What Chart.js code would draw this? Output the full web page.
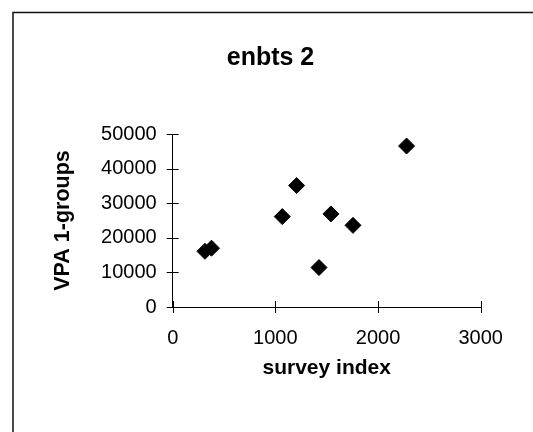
<!DOCTYPE html>
<html>
<head>
<meta charset="utf-8">
<script src="https://cdn.jsdelivr.net/npm/chart.js@4/dist/chart.umd.min.js"></script>
<style>
    html, body { margin: 0; padding: 0; background: #fff; }
    #wrap { width: 533px; height: 432px; }
</style>
</head>
<body>
<div id="wrap"><canvas id="enbts"></canvas></div>
<script>
const surveyIndex = [314, 378, 1067, 1207, 1425, 1541, 1756, 2278];
const vpaGroups = [16100, 17000, 26120, 35110, 11400, 26900, 23600, 46520];
const xTicks = [0, 1000, 2000, 3000];
const yTicks = [0, 10000, 20000, 30000, 40000, 50000];

const font = "'Liberation Sans', Arial, sans-serif";

// frame + cross tick marks
const decor = {
    id: 'decor',
    beforeDraw(chart) {
        const ctx = chart.ctx;
        ctx.save();
        ctx.strokeStyle = '#111';
        ctx.lineWidth = 1.5;
        ctx.beginPath();
        ctx.moveTo(13, 432);
        ctx.lineTo(13, 12.5);
        ctx.lineTo(533, 12.5);
        ctx.stroke();
        ctx.restore();
    },
    afterDraw(chart) {
        const ctx = chart.ctx;
        const xs = chart.scales.x, ys = chart.scales.y;
        ctx.save();
        ctx.strokeStyle = '#000';
        ctx.lineWidth = 1;
        ctx.beginPath();
        xTicks.forEach(v => {
            const px = Math.round(xs.getPixelForValue(v)) + 0.5;
            ctx.moveTo(px, ys.bottom - 6);
            ctx.lineTo(px, ys.bottom + 6);
        });
        yTicks.forEach(v => {
            const py = Math.round(ys.getPixelForValue(v)) + 0.5;
            ctx.moveTo(xs.left - 6, py);
            ctx.lineTo(xs.left + 6, py);
        });
        ctx.stroke();
        ctx.restore();
    }
};

new Chart(document.getElementById('enbts'), {
    type: 'scatter',
    data: {
        datasets: [{
            label: 'enbts 2',
            data: surveyIndex.map((x, i) => ({ x: x, y: vpaGroups[i] })),
            pointStyle: 'rectRot',
            pointRadius: 8,
            pointHoverRadius: 8,
            backgroundColor: '#000',
            borderColor: '#000',
            borderWidth: 1
        }]
    },
    options: {
        responsive: true,
        maintainAspectRatio: false,
        animation: false,
        layout: { padding: { left: 8, right: 0, top: 0, bottom: 0 } },
        plugins: {
            legend: { display: false },
            tooltip: { enabled: false },
            title: {
                display: true,
                text: 'enbts 2',
                color: '#000',
                font: { family: font, size: 25, weight: 'bold' },
                padding: { top: 43, bottom: 61 }
            }
        },
        scales: {
            x: {
                type: 'linear',
                min: 0,
                max: 3000,
                afterBuildTicks: s => { s.ticks = xTicks.map(v => ({ value: v })); },
                afterFit: s => { s.height = 125; },
                grid: { display: false, drawTicks: false },
                border: { display: true, color: '#000', width: 1 },
                ticks: {
                    color: '#000',
                    padding: 19,
                    font: { family: font, size: 20 },
                    callback: v => String(v)
                },
                title: {
                    display: true,
                    text: 'survey index',
                    color: '#000',
                    font: { family: font, size: 21, weight: 'bold' },
                    padding: { top: 0, bottom: 51 }
                }
            },
            y: {
                type: 'linear',
                min: 0,
                max: 50000,
                afterBuildTicks: s => { s.ticks = yTicks.map(v => ({ value: v })); },
                afterFit: s => { s.width = 164.7; },
                grid: { display: false, drawTicks: false },
                border: { display: true, color: '#000', width: 1 },
                ticks: {
                    color: '#000',
                    padding: 16,
                    font: { family: font, size: 20 },
                    callback: v => String(v)
                },
                title: {
                    display: true,
                    text: 'VPA 1-groups',
                    color: '#000',
                    font: { family: font, size: 21.5, weight: 'bold' },
                    padding: { top: 42, bottom: 0 }
                }
            },
            yRight: {
                type: 'linear',
                position: 'right',
                display: true,
                grid: { display: false, drawTicks: false },
                border: { display: false },
                ticks: { display: false },
                afterFit: s => { s.width = 52.3; }
            }
        }
    },
    plugins: [decor]
});
</script>
</body>
</html>
